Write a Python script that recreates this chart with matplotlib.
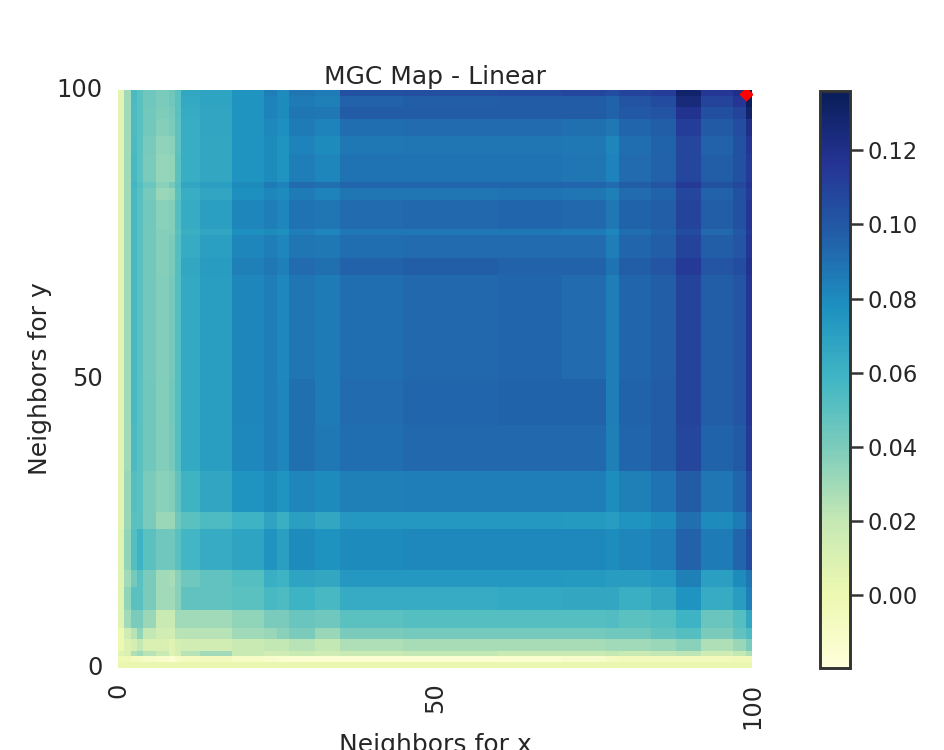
import numpy as np
import matplotlib
matplotlib.use("Agg")
import matplotlib.pyplot as plt
from matplotlib.transforms import ScaledTranslation

title = "MGC Map - Linear"
xlabel = "Neighbors for x"
ylabel = "Neighbors for y"
ticks = [0, 50, 100]
cbar_ticks = [0.00, 0.02, 0.04, 0.06, 0.08, 0.10, 0.12]
vmin, vmax = -0.0197, 0.1362
optimal = (99, 99.3)

# neighbourhood bins of the map (cell indices)
col_edges = [0,1,2,3,4,6,8,9,10,13,18,23,25,27,31,35,45,60,70,77,79,84,88,92,97,99,100]
row_edges = [100,99,97,95,92,89,84,83,81,76,75,71,68,50,42,34,27,24,17,14,10,7,5,3,2,1,0]

# MGC statistic, one line per row bin, top to bottom
stat_rows = [
 [.005,.030,.055,.050,.044,.040,.044,.050,.066,.068,.076,.085,.080,.088,.086,.103,.104,.106,.108,.105,.110,.112,.130,.115,.120,.135],
 [.005,.030,.055,.050,.044,.040,.044,.050,.065,.068,.076,.083,.080,.086,.084,.096,.097,.098,.098,.095,.102,.106,.125,.110,.116,.135],
 [.005,.030,.054,.050,.043,.039,.042,.050,.064,.067,.076,.083,.080,.088,.087,.098,.098,.098,.098,.095,.100,.102,.118,.104,.110,.130],
 [.005,.030,.054,.050,.043,.037,.040,.049,.063,.067,.076,.081,.078,.086,.083,.091,.092,.092,.090,.087,.094,.097,.112,.099,.105,.120],
 [.005,.030,.055,.050,.041,.035,.036,.049,.063,.066,.076,.080,.076,.083,.080,.087,.088,.088,.087,.082,.091,.095,.108,.096,.103,.116],
 [.005,.030,.056,.050,.040,.033,.034,.050,.063,.066,.076,.080,.076,.085,.082,.089,.089,.089,.088,.083,.092,.096,.108,.097,.103,.114],
 [.005,.030,.058,.052,.045,.036,.042,.052,.067,.070,.080,.086,.083,.092,.090,.094,.094,.094,.094,.092,.097,.101,.114,.103,.107,.116],
 [.005,.030,.056,.050,.042,.032,.034,.050,.063,.067,.078,.082,.080,.086,.083,.088,.088,.089,.088,.084,.092,.095,.108,.096,.103,.114],
 [.005,.030,.056,.050,.043,.036,.038,.052,.064,.070,.082,.085,.082,.089,.088,.092,.093,.094,.093,.087,.095,.097,.110,.097,.103,.116],
 [.005,.030,.056,.050,.043,.037,.038,.050,.062,.067,.078,.080,.078,.085,.082,.087,.087,.087,.086,.082,.091,.095,.106,.093,.100,.114],
 [.005,.030,.056,.050,.043,.037,.040,.052,.064,.070,.082,.085,.082,.088,.087,.091,.092,.092,.092,.085,.094,.097,.110,.097,.101,.116],
 [.005,.030,.056,.050,.043,.037,.040,.052,.066,.072,.084,.087,.084,.092,.090,.096,.097,.096,.096,.089,.097,.101,.114,.101,.105,.118],
 [.005,.030,.056,.050,.043,.038,.042,.052,.065,.071,.082,.085,.081,.088,.086,.091,.093,.094,.092,.085,.094,.097,.109,.097,.101,.116],
 [.005,.030,.056,.050,.044,.038,.043,.052,.065,.071,.082,.085,.082,.090,.086,.092,.094,.095,.095,.085,.095,.098,.110,.097,.101,.116],
 [.005,.030,.055,.050,.044,.038,.042,.052,.065,.071,.081,.085,.082,.090,.087,.091,.093,.093,.093,.084,.094,.098,.108,.095,.099,.114],
 [.005,.032,.052,.050,.040,.036,.038,.048,.060,.067,.076,.080,.076,.082,.080,.084,.085,.085,.085,.079,.084,.089,.098,.088,.094,.108],
 [.005,.032,.050,.050,.040,.032,.032,.044,.050,.054,.060,.068,.062,.070,.066,.074,.074,.074,.073,.072,.076,.080,.090,.080,.086,.100],
 [.006,.034,.052,.060,.050,.044,.044,.050,.058,.064,.068,.076,.070,.080,.077,.080,.081,.081,.081,.079,.082,.085,.096,.086,.094,.106],
 [.006,.030,.042,.050,.040,.030,.028,.036,.044,.048,.052,.062,.060,.068,.066,.074,.074,.074,.073,.072,.072,.074,.084,.070,.080,.088],
 [.006,.034,.050,.050,.040,.030,.030,.036,.048,.048,.050,.056,.054,.060,.056,.064,.064,.065,.066,.066,.062,.066,.076,.064,.072,.084],
 [.006,.030,.040,.040,.032,.018,.018,.030,.030,.030,.034,.040,.040,.046,.044,.050,.052,.052,.052,.053,.050,.052,.060,.046,.052,.066],
 [.000,.016,.024,.034,.020,.014,.014,.024,.024,.024,.030,.032,.036,.040,.032,.040,.042,.042,.042,.044,.044,.048,.052,.040,.048,.054],
 [.000,.008,.012,.020,.010,.010,.006,.012,.014,.014,.018,.020,.020,.024,.020,.026,.028,.028,.028,.030,.030,.032,.036,.026,.032,.040],
 [.006,.010,.026,.030,.024,.018,.006,.012,.024,.030,.018,.014,.016,.018,.016,.018,.020,.018,.018,.020,.018,.020,.022,.016,.020,.026],
 [-.002,-.002,-.006,-.008,-.010,-.012,-.016,-.010,-.008,-.006,-.010,-.012,-.014,-.016,-.016,-.016,-.016,-.014,-.012,-.008,-.005,-.005,-.004,-.004,-.003,-.003],
 [.002,.002,.002,.002,.002,.002,.002,.002,.002,.002,.002,.002,.002,.002,.002,.002,.002,.002,.002,.002,.002,.002,.002,.002,.002,.002],
]

stat = np.array(stat_rows)
widths = np.diff(col_edges)
heights = -np.diff(row_edges)
cells = np.repeat(np.repeat(stat, heights, axis=0), widths, axis=1)[::-1]

ink = "#262626"
plt.rcParams["font.family"] = "DejaVu Sans"
plt.rcParams["text.color"] = ink
W, H, dpi = 944, 750, 150
fig = plt.figure(figsize=(W / dpi, H / dpi), dpi=dpi, facecolor="white")
ax = fig.add_axes([118 / W, 1 - 668 / H, 634 / W, 578 / H])
mesh = ax.pcolormesh(np.arange(101), np.arange(101), cells, cmap="YlGnBu",
                     vmin=vmin, vmax=vmax, linewidth=0, rasterized=True)
ax.scatter(*optimal, marker="D", s=24, color="red", linewidths=0, zorder=3)
ax.set_xlim(0, 100)
ax.set_ylim(0, 100)
for s in ax.spines.values():
    s.set_visible(False)
ax.set_xticks(ticks)
ax.set_yticks(ticks)
ax.tick_params(length=0, labelsize=11.5, labelcolor=ink)
ax.tick_params(axis="y", pad=7.5)
ax.tick_params(axis="x", labelrotation=90, pad=7)
lift = ScaledTranslation(0, 2.4 / dpi, fig.dpi_scale_trans)
for lab in ax.get_yticklabels():
    lab.set_transform(lab.get_transform() + lift)
ax.set_title(title, fontsize=12, color=ink, pad=3)
ax.set_xlabel(xlabel, fontsize=12, color=ink, labelpad=2)
ax.set_ylabel(ylabel, fontsize=12, color=ink, labelpad=2)

cax = fig.add_axes([820 / W, 1 - 667.5 / H, 30 / W, 577 / H])
cb = fig.colorbar(mesh, cax=cax)
cb.set_ticks(cbar_ticks)
cb.set_ticklabels([f"{v:.2f}" for v in cbar_ticks])
cb.ax.tick_params(length=6, width=1.2, color="#333333", labelsize=10.8, labelcolor=ink, pad=2.6)
cb.outline.set_edgecolor("#333333")
cb.outline.set_linewidth(1.4)
fig.savefig("out.png", dpi=dpi)
